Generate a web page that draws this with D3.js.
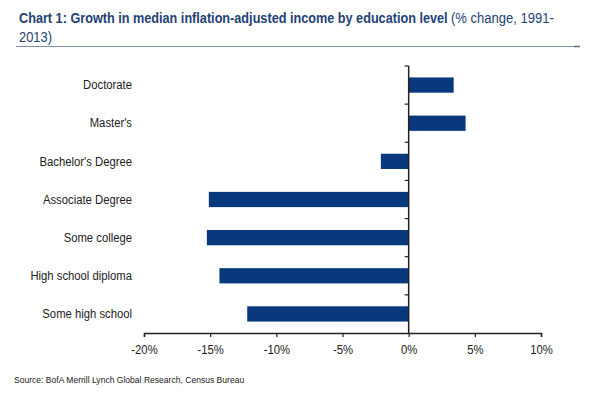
<!DOCTYPE html>
<html>
<head>
<meta charset="utf-8">
<script src="https://cdn.jsdelivr.net/npm/d3@7"></script>
<style>
  body { margin: 0; background: #fff; }
  text { font-family: "Liberation Sans", Arial, sans-serif; }
</style>
</head>
<body>
<svg id="chart" width="600" height="398"></svg>
<script>
// data
const categories = ["Doctorate", "Master's", "Bachelor's Degree", "Associate Degree",
  "Some college", "High school diploma", "Some high school"];
const growth = [3.4, 4.3, -2.1, -15.1, -15.25, -14.3, -12.2];
const xTicks = [-20, -15, -10, -5, 0, 5, 10];

const titleBold = "Chart 1: Growth in median inflation-adjusted income by education level";
const titleRest = "(% change, 1991-";
const titleLine2 = "2013)";
const source = "Source: BofA Merrill Lynch Global Research, Census Bureau";

const svg = d3.select("#chart");
const navy = "#0a387c";
const titleColor = "#1f4274";

// squeeze a text horizontally, like the narrow font in the original
function narrow(sel, k) {
  sel.each(function() {
    const w = this.getComputedTextLength();
    d3.select(this).attr("textLength", w * k).attr("lengthAdjust", "spacingAndGlyphs");
  });
}

// title pieces: scaled with a transform so each fits its measured width
function titlePiece(str, x0, y0, width, bold) {
  const g = svg.append("g");
  const t = g.append("text")
    .attr("font-size", 15)
    .attr("font-weight", bold ? "bold" : "normal")
    .attr("fill", titleColor)
    .text(str);
  const k = width / t.node().getComputedTextLength();
  g.attr("transform", `translate(${x0},${y0}) scale(${k},1)`);
}
titlePiece(titleBold, 19, 23, 429, true);
titlePiece(titleRest, 451, 23, 103, false);
titlePiece(titleLine2, 19, 42, 33, false);

svg.append("line")
  .attr("x1", 16).attr("x2", 580)
  .attr("y1", 46.5).attr("y2", 46.5)
  .attr("stroke", "#8391a8").attr("stroke-width", 1);
svg.append("line")
  .attr("x1", 574).attr("x2", 580)
  .attr("y1", 46.5).attr("y2", 46.5)
  .attr("stroke", "#5a6a85").attr("stroke-width", 1.5);

// scales
const x = d3.scaleLinear()
  .domain([-20, 10])
  .range([144, 541]);

const y = d3.scaleBand()
  .domain(categories)
  .range([66, 333])
  .paddingInner(0.6)
  .paddingOuter(0.3);

// bars
svg.selectAll("rect.bar")
  .data(categories)
  .enter().append("rect")
    .attr("class", "bar")
    .attr("x", (d, i) => x(Math.min(0, growth[i])))
    .attr("y", d => y(d))
    .attr("width", (d, i) => Math.abs(x(growth[i]) - x(0)))
    .attr("height", y.bandwidth())
    .attr("fill", navy);

// x axis
const xAxis = svg.append("g")
  .attr("transform", "translate(0,333)")
  .call(d3.axisBottom(x)
    .tickValues(xTicks)
    .tickSize(4)
    .tickFormat(d => d + "%"));
xAxis.select(".domain").attr("stroke", "#222").attr("stroke-width", 1.5);
xAxis.selectAll(".tick line").attr("stroke", "#222").attr("stroke-width", 1.2);
xAxis.selectAll(".tick text")
  .attr("font-size", 12)
  .attr("font-family", "Liberation Sans, Arial, sans-serif")
  .attr("fill", "#222")
  .attr("dy", "1.15em")
  .call(narrow, 0.94);

// y axis at zero, ticks at the band boundaries
const bounds = d3.range(categories.length).map(i => y.range()[0] + i * y.step());
svg.append("line")
  .attr("x1", x(0)).attr("x2", x(0))
  .attr("y1", 66).attr("y2", 333)
  .attr("stroke", "#222").attr("stroke-width", 1.5);
svg.selectAll("line.ytick")
  .data(bounds)
  .enter().append("line")
    .attr("class", "ytick")
    .attr("x1", x(0) - 4).attr("x2", x(0))
    .attr("y1", d => d).attr("y2", d => d)
    .attr("stroke", "#222").attr("stroke-width", 1.2);

// category labels
svg.selectAll("text.cat")
  .data(categories)
  .enter().append("text")
    .attr("class", "cat")
    .attr("x", 132)
    .attr("y", d => y(d) + y.bandwidth() / 2)
    .attr("dy", "0.35em")
    .attr("text-anchor", "end")
    .attr("font-size", 12)
    .attr("fill", "#222")
    .text(d => d)
    .call(narrow, 0.94);

// source
svg.append("text")
  .attr("x", 14).attr("y", 383)
  .attr("font-size", 9)
  .attr("fill", "#222")
  .text(source)
  .call(narrow, 0.95);
</script>
</body>
</html>
